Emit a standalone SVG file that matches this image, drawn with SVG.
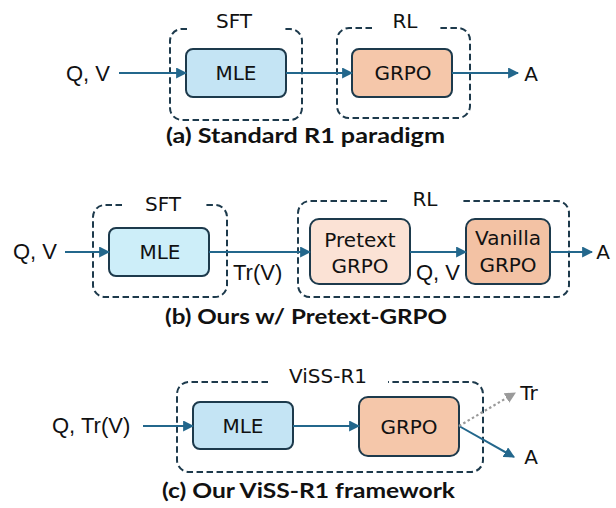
<svg xmlns="http://www.w3.org/2000/svg" width="616" height="508" viewBox="0 0 616 508">
<defs>
<style>
.dash{fill:none;stroke:#1d3a4c;stroke-width:2;stroke-dasharray:6.5,3.5}
.box{stroke:#1d3a4c;stroke-width:2}
.blue{fill:#c4e4f4}
.blue2{fill:#cdeef9}
.orange{fill:#f5c7aa}
.light{fill:#fbe2d5}
.dark{fill:#f3c2a4}
.lbl{font-family:"DejaVu Sans",sans-serif;font-size:20px;fill:#111;text-anchor:middle}
.io{font-family:"Liberation Sans",Arial,sans-serif;font-size:22px;fill:#111}
.cap{font-family:Lato,"Open Sans",sans-serif;font-size:21px;font-weight:bold;fill:#111}
.arr{stroke:#23678c;stroke-width:2;fill:none;marker-end:url(#ah)}
.dot{stroke:#9a9a9a;stroke-width:2.2;stroke-dasharray:2.5,2.5;fill:none;marker-end:url(#ahg)}
</style>
<marker id="ah" viewBox="0 0 10 10" refX="9" refY="5" markerWidth="5.5" markerHeight="5.5" orient="auto" markerUnits="strokeWidth">
<path d="M0,0 L10,5 L0,10 z" fill="#23678c"/>
</marker>
<marker id="ahg" viewBox="0 0 10 10" refX="9" refY="5" markerWidth="5" markerHeight="5" orient="auto" markerUnits="strokeWidth">
<path d="M0,0 L10,5 L0,10 z" fill="#9a9a9a"/>
</marker>
</defs>

<!-- Panel (a) -->
<g id="a-sft-group">
<path class="dash" d="M187,29 H182 A12,12 0 0 0 170,41 V108 A12,12 0 0 0 182,120 H290 A12,12 0 0 0 302,108 V41 A12,12 0 0 0 290,29 H282"/>
<text class="lbl" x="234" y="28" font-size="21">SFT</text>
</g>
<g id="a-rl-group">
<path class="dash" d="M372,28 H349 A12,12 0 0 0 337,40 V106 A12,12 0 0 0 349,118 H458 A12,12 0 0 0 470,106 V40 A12,12 0 0 0 458,28 H439"/>
<text class="lbl" x="405" y="28" font-size="21">RL</text>
</g>
<g id="a-mle">
<rect class="box blue" x="186" y="49" width="100" height="48" rx="7"/>
<text class="lbl" x="236" y="80">MLE</text>
</g>
<g id="a-grpo">
<rect class="box orange" x="352" y="49" width="100" height="48" rx="7"/>
<text class="lbl" x="403" y="80">GRPO</text>
</g>
<g id="a-in"><text class="io" x="66" y="81">Q, V</text></g>
<g id="a-out"><text class="lbl" x="531" y="81">A</text></g>
<g id="a-edges">
<line class="arr" x1="119" y1="73" x2="186" y2="73"/>
<line class="arr" x1="286" y1="73" x2="352" y2="73"/>
<line class="arr" x1="452" y1="73" x2="518" y2="73"/>
</g>
<text class="cap" x="166" y="143" textLength="279" lengthAdjust="spacingAndGlyphs">(a) Standard R1 paradigm</text>

<!-- Panel (b) -->
<g id="b-sft-group">
<path class="dash" d="M122,205 H105 A12,12 0 0 0 93,217 V285 A12,12 0 0 0 105,297 H215 A12,12 0 0 0 227,285 V217 A12,12 0 0 0 215,205 H204"/>
<text class="lbl" x="163" y="211" font-size="21">SFT</text>
</g>
<g id="b-rl-group">
<path class="dash" d="M387,201 H310 A12,12 0 0 0 298,213 V285 A12,12 0 0 0 310,297 H557 A12,12 0 0 0 569,285 V213 A12,12 0 0 0 557,201 H463"/>
<text class="lbl" x="425" y="206" font-size="21">RL</text>
</g>
<g id="b-mle">
<rect class="box blue2" x="109" y="228" width="100" height="48" rx="7"/>
<text class="lbl" x="160" y="259">MLE</text>
</g>
<g id="b-pretext">
<rect class="box light" x="310" y="219" width="100" height="65" rx="9"/>
<text class="lbl" x="360" y="247">Pretext</text>
<text class="lbl" x="360" y="273">GRPO</text>
</g>
<g id="b-vanilla">
<rect class="box dark" x="466" y="219" width="84" height="65" rx="9"/>
<text class="lbl" x="508" y="245">Vanilla</text>
<text class="lbl" x="508" y="272">GRPO</text>
</g>
<g id="b-in"><text class="io" x="13" y="259">Q, V</text></g>
<g id="b-out"><text class="lbl" x="603" y="259">A</text></g>
<g id="b-edges">
<line class="arr" x1="65" y1="252" x2="109" y2="252"/>
<line class="arr" x1="209" y1="252" x2="310" y2="252"/>
<line class="arr" x1="410" y1="252" x2="466" y2="252"/>
<line class="arr" x1="550" y1="252" x2="592" y2="252"/>
<text class="io" x="233" y="280" font-size="23">Tr(V)</text>
<text class="io" x="416" y="280">Q, V</text>
</g>
<text class="cap" x="165" y="324" textLength="282" lengthAdjust="spacingAndGlyphs">(b) Ours w/ Pretext-GRPO</text>

<!-- Panel (c) -->
<g id="c-viss-group">
<path class="dash" d="M268,382 H189 A12,12 0 0 0 177,394 V460 A12,12 0 0 0 189,472 H471 A12,12 0 0 0 483,460 V394 A12,12 0 0 0 471,382 H388"/>
<text class="lbl" x="328" y="383" font-size="21">ViSS-R1</text>
</g>
<g id="c-mle">
<rect class="box blue" x="193" y="402" width="100" height="47" rx="7"/>
<text class="lbl" x="243" y="433">MLE</text>
</g>
<g id="c-grpo">
<rect class="box orange" x="359" y="397" width="100" height="59" rx="9"/>
<text class="lbl" x="409" y="434">GRPO</text>
</g>
<g id="c-in"><text class="io" x="52" y="433">Q, Tr(V)</text></g>
<g id="c-out-tr"><text class="lbl" x="529" y="400">Tr</text></g>
<g id="c-out-a"><text class="lbl" x="531" y="464">A</text></g>
<g id="c-edges">
<line class="arr" x1="459" y1="426" x2="514" y2="457"/>
<line class="arr" x1="143" y1="426" x2="193" y2="426"/>
<line class="arr" x1="293" y1="426" x2="359" y2="426"/>
<line class="dot" x1="459" y1="426" x2="515" y2="393"/>
</g>
<text class="cap" x="162" y="498" textLength="293" lengthAdjust="spacingAndGlyphs">(c) Our ViSS-R1 framework</text>
</svg>
